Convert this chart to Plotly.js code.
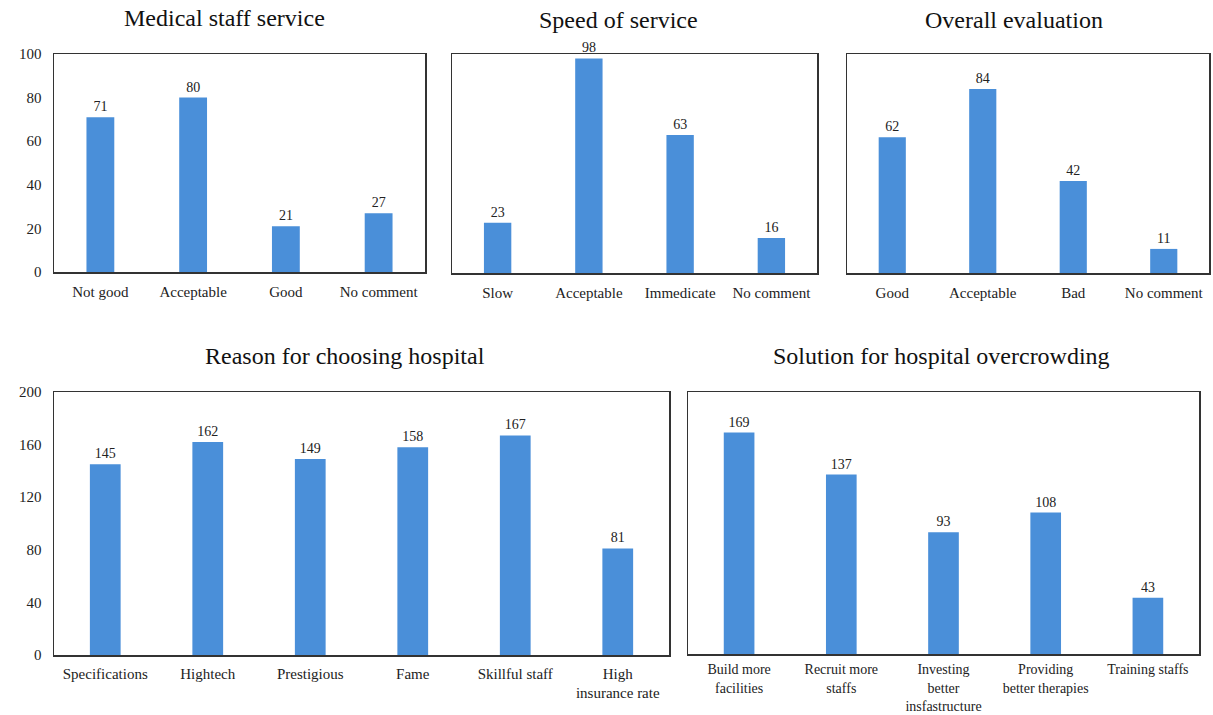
<!DOCTYPE html>
<html>
<head>
<meta charset="utf-8">
<script src="https://cdn.plot.ly/plotly-3.0.1.min.js"></script>
<style>html,body{margin:0;padding:0;background:#fff}#chart{width:1213px;height:715px}</style>
</head>
<body>
<div id="chart"></div>
<script>
// ---- data ----
const medicalCats = ["Not good", "Acceptable", "Good", "No comment"];
const medicalVals = [71, 80, 21, 27];

const speedCats = ["Slow", "Acceptable", "Immedicate", "No comment"];
const speedVals = [23, 98, 63, 16];

const overallCats = ["Good", "Acceptable", "Bad", "No comment"];
const overallVals = [62, 84, 42, 11];

const reasonCats = ["Specifications", "Hightech", "Prestigious", "Fame", "Skillful staff", "High<br>insurance rate"];
const reasonVals = [145, 162, 149, 158, 167, 81];

const solutionCats = ["Build more<br>facilities", "Recruit more<br>staffs", "Investing<br>better<br>insfastructure", "Providing<br>better therapies", "Training staffs"];
const solutionVals = [169, 137, 93, 108, 43];

const titles = ["Medical staff service", "Speed of service", "Overall evaluation", "Reason for choosing hospital", "Solution for hospital overcrowding"];
const yTop = [100, 100, 100, 200, 200];
const yTicks = [[0,20,40,60,80,100], null, null, [0,40,80,120,160,200], null];

// ---- style ----
const barColor = "#4A8FD9";
const font = "'Liberation Serif', 'Times New Roman', Times, serif";
const W = 1213, H = 715;
const px = (a, b) => [a / W, b / W];
const py = (top, bottom) => [1 - bottom / H, 1 - top / H];

const panels = [
  {cats: medicalCats, vals: medicalVals, xd: px(54, 425), yd: py(54, 272), tf: 15, so: 5},
  {cats: speedCats, vals: speedVals, xd: px(452, 817), yd: py(54, 273), tf: 15, so: 5},
  {cats: overallCats, vals: overallVals, xd: px(847, 1209), yd: py(54, 273), tf: 15, so: 5},
  {cats: reasonCats, vals: reasonVals, xd: px(54, 669), yd: py(392, 655), tf: 15, so: 4},
  {cats: solutionCats, vals: solutionVals, xd: px(688, 1199), yd: py(392, 654), tf: 14, so: 2}
];
const titlePos = [[225, 18], [618, 20], [1014, 20], [345, 356], [941, 356]];

const data = [];
const layout = {
  width: W, height: H,
  margin: {l: 0, r: 0, t: 0, b: 0},
  paper_bgcolor: "#fff", plot_bgcolor: "#fff",
  showlegend: false,
  font: {family: font, color: "#222", size: 14},
  annotations: []
};

panels.forEach((p, i) => {
  const n = i + 1;
  const xa = n === 1 ? "x" : "x" + n;
  const ya = n === 1 ? "y" : "y" + n;
  data.push({
    type: "bar",
    x: p.cats, y: p.vals,
    xaxis: xa, yaxis: ya,
    marker: {color: barColor},
    width: 0.3,
    text: p.vals.map(String),
    textposition: "outside",
    cliponaxis: false,
    textfont: {family: font, size: 14, color: "#222"},
    hoverinfo: "x+y"
  });
  layout["xaxis" + (n === 1 ? "" : n)] = {
    domain: p.xd, anchor: ya,
    type: "category",
    showline: true, mirror: true, linecolor: "#333", linewidth: 1.5,
    ticks: "", showgrid: false, zeroline: false,
    ticklabelstandoff: p.so,
    tickfont: {family: font, size: p.tf, color: "#222"},
    fixedrange: true
  };
  const yax = {
    domain: p.yd, anchor: xa,
    range: [0, yTop[i]],
    showline: true, mirror: true, linecolor: "#333", linewidth: 1.5,
    showgrid: false, zeroline: false, ticks: "",
    tickfont: {family: font, size: 15, color: "#222"},
    fixedrange: true
  };
  if (yTicks[i]) {
    yax.tickmode = "array";
    yax.tickvals = yTicks[i];
    yax.ticktext = yTicks[i].map(String);
    yax.ticklabelstandoff = 8;
  } else {
    yax.showticklabels = false;
  }
  layout["yaxis" + (n === 1 ? "" : n)] = yax;
  layout.annotations.push({
    text: titles[i],
    xref: "paper", yref: "paper",
    x: titlePos[i][0] / W, y: 1 - titlePos[i][1] / H,
    xanchor: "center", yanchor: "middle",
    showarrow: false,
    font: {family: font, size: 24, color: "#111"}
  });
});

Plotly.newPlot("chart", data, layout, {displayModeBar: false, staticPlot: true});
</script>
</body>
</html>
